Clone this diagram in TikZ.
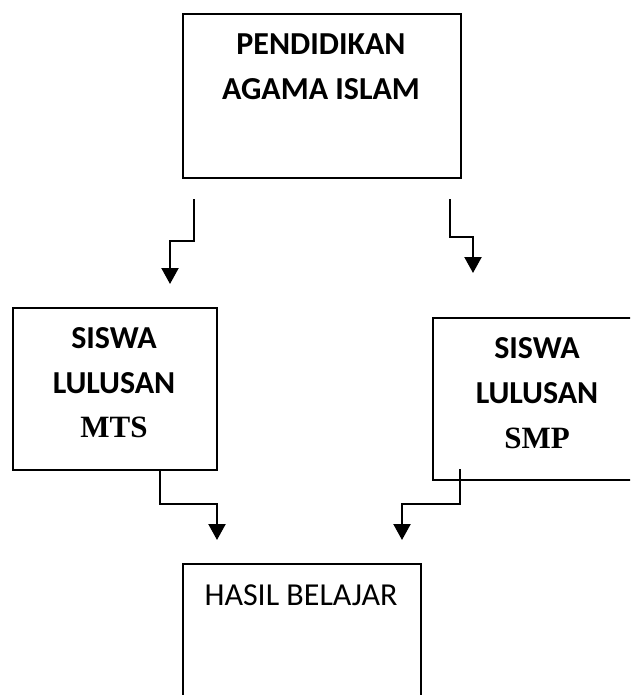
\documentclass[tikz,border=0pt]{standalone}
\usepackage{fontspec}
\setmainfont{Carlito}
\newfontfamily\tnr{Liberation Serif}
\usetikzlibrary{arrows.meta}
\tikzset{
  boxframe/.style={draw=black, line width=2.2pt, fill=none, inner sep=0pt, anchor=north west},
  lbl/.style={inner sep=0pt, anchor=base, font=\fontsize{32}{36}\selectfont\bfseries},
  lblreg/.style={inner sep=0pt, anchor=base, font=\fontsize{32}{36}\selectfont},
  conn/.style={draw=black, line width=2.2pt, -{Triangle[width=17pt,length=16pt]}}
}
\begin{document}
\begin{tikzpicture}[x=1pt,y=-1pt]
\clip (0,0) rectangle (630,695);
\useasboundingbox (0,0) rectangle (630,695);
% boxes
\node[boxframe, minimum width=278pt, minimum height=164pt] (pai) at (182,13) {};
\node[boxframe, minimum width=204pt, minimum height=162pt] (mts) at (12,307) {};
\node[boxframe, minimum width=210pt, minimum height=162pt] (smp) at (432,317) {};
\node[boxframe, minimum width=238pt, minimum height=150pt] (hasil) at (182,563) {};
% texts
\node[lbl] (pai1) at (321,55) {PENDIDIKAN};
\node[lbl] (pai2) at (321,100) {AGAMA ISLAM};
\node[lbl] (mts1) at (114,348) {SISWA};
\node[lbl] (mts2) at (114,393) {LULUSAN};
\node[lbl, font=\fontsize{31}{36}\selectfont\tnr\bfseries] (mts3) at (114,437) {MTS};
\node[lbl] (smp1) at (537,358) {SISWA};
\node[lbl] (smp2) at (537,403) {LULUSAN};
\node[lbl, font=\fontsize{31}{36}\selectfont\tnr\bfseries] (smp3) at (537,448) {SMP};
\node[lblreg] (hasil1) at (301,605) {HASIL BELAJAR};
% connector end points
\coordinate (a1) at (194,199);
\coordinate (a2) at (170,284);
\coordinate (b1) at (450,199);
\coordinate (b2) at (473,273);
\coordinate (c1) at (160,469);
\coordinate (c2) at (217,540);
\coordinate (d1) at (460,469);
\coordinate (d2) at (402,540);
% connectors
\draw[conn] (a1) -- (194,241) -- (170,241) -- (a2);
\draw[conn] (b1) -- (450,237) -- (473,237) -- (b2);
\draw[conn] (c1) -- (160,504) -- (217,504) -- (c2);
\draw[conn] (d1) -- (460,504) -- (402,504) -- (d2);
\end{tikzpicture}
\end{document}
